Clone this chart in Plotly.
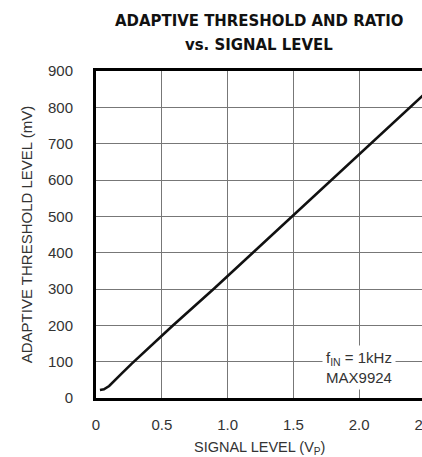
import plotly.graph_objects as go

signal_v = [0.03, 0.06, 0.1, 0.15, 0.2, 0.27, 0.4, 0.58, 0.9, 1.5, 2.1, 2.5]
threshold_mv = [22, 24, 33, 50, 69, 94, 138, 198, 302, 502, 704, 838]

x_ticks = [0, 0.5, 1.0, 1.5, 2.0, 2.5]
x_tick_text = ["0", "0.5", "1.0", "1.5", "2.0", "2.5"]
y_ticks = [0, 100, 200, 300, 400, 500, 600, 700, 800, 900]

FONT = "Liberation Sans, Arial, sans-serif"
TFONT = "DejaVu Sans Condensed, Liberation Sans Narrow, sans-serif"

W, H = 430, 457
L, R, T, B = 96, 5, 71, 59
PW, PH = W - L - R, H - T - B

fig = go.Figure()
fig.add_trace(go.Scatter(x=signal_v, y=threshold_mv, mode="lines",
                         line=dict(color="#111", width=2.6),
                         showlegend=False, hoverinfo="skip"))

fig.add_annotation(x=2.0, y=84, xref="x", yref="y",
                   text="f<sub>IN</sub> = 1kHz<br>MAX9924", showarrow=False,
                   bgcolor="white", font=dict(family=FONT, size=15, color="#333"),
                   align="center", borderpad=3)

for txt, py in [("<b>ADAPTIVE THRESHOLD AND RATIO</b>", 20), ("<b>vs. SIGNAL LEVEL</b>", 44)]:
    fig.add_annotation(x=(259 - L) / PW, y=(H - B - py) / PH, xref="paper", yref="paper",
                       xanchor="center", yanchor="middle", showarrow=False, text=txt,
                       font=dict(family=TFONT, size=16.6, color="#111"))

fig.add_annotation(x=(259 - L) / PW, y=(H - B - 448) / PH, xref="paper", yref="paper",
                   xanchor="center", yanchor="middle", showarrow=False,
                   text="SIGNAL LEVEL (V<sub>P</sub>)",
                   font=dict(family=FONT, size=14.5, color="#333"))

fig.update_layout(
    width=W, height=H,
    margin=dict(l=L, r=R, t=T, b=B, autoexpand=False),
    paper_bgcolor="white", plot_bgcolor="white",
    font=dict(family=FONT, size=15, color="#333"),
)
fig.update_xaxes(range=[0, 2.5], tickvals=x_ticks, ticktext=x_tick_text,
                 showgrid=True, gridcolor="#777", gridwidth=1,
                 showline=True, linecolor="#000", linewidth=3, mirror=True,
                 zeroline=False, ticks="", ticklabelstandoff=11, automargin=False,
                 ticklabeloverflow="allow")
fig.update_yaxes(range=[0, 900], tickvals=y_ticks,
                 showgrid=True, gridcolor="#777", gridwidth=1,
                 showline=True, linecolor="#000", linewidth=3, mirror=True,
                 zeroline=False, ticks="", ticklabelstandoff=17, automargin=False,
                 title=dict(text="ADAPTIVE THRESHOLD LEVEL (mV)", standoff=12,
                            font=dict(family=FONT, size=15, color="#333")))

fig.write_html("out.html", config={"displayModeBar": False},
               post_script="document.body.style.margin='0';document.body.style.overflow='hidden';document.documentElement.style.overflow='hidden';")
